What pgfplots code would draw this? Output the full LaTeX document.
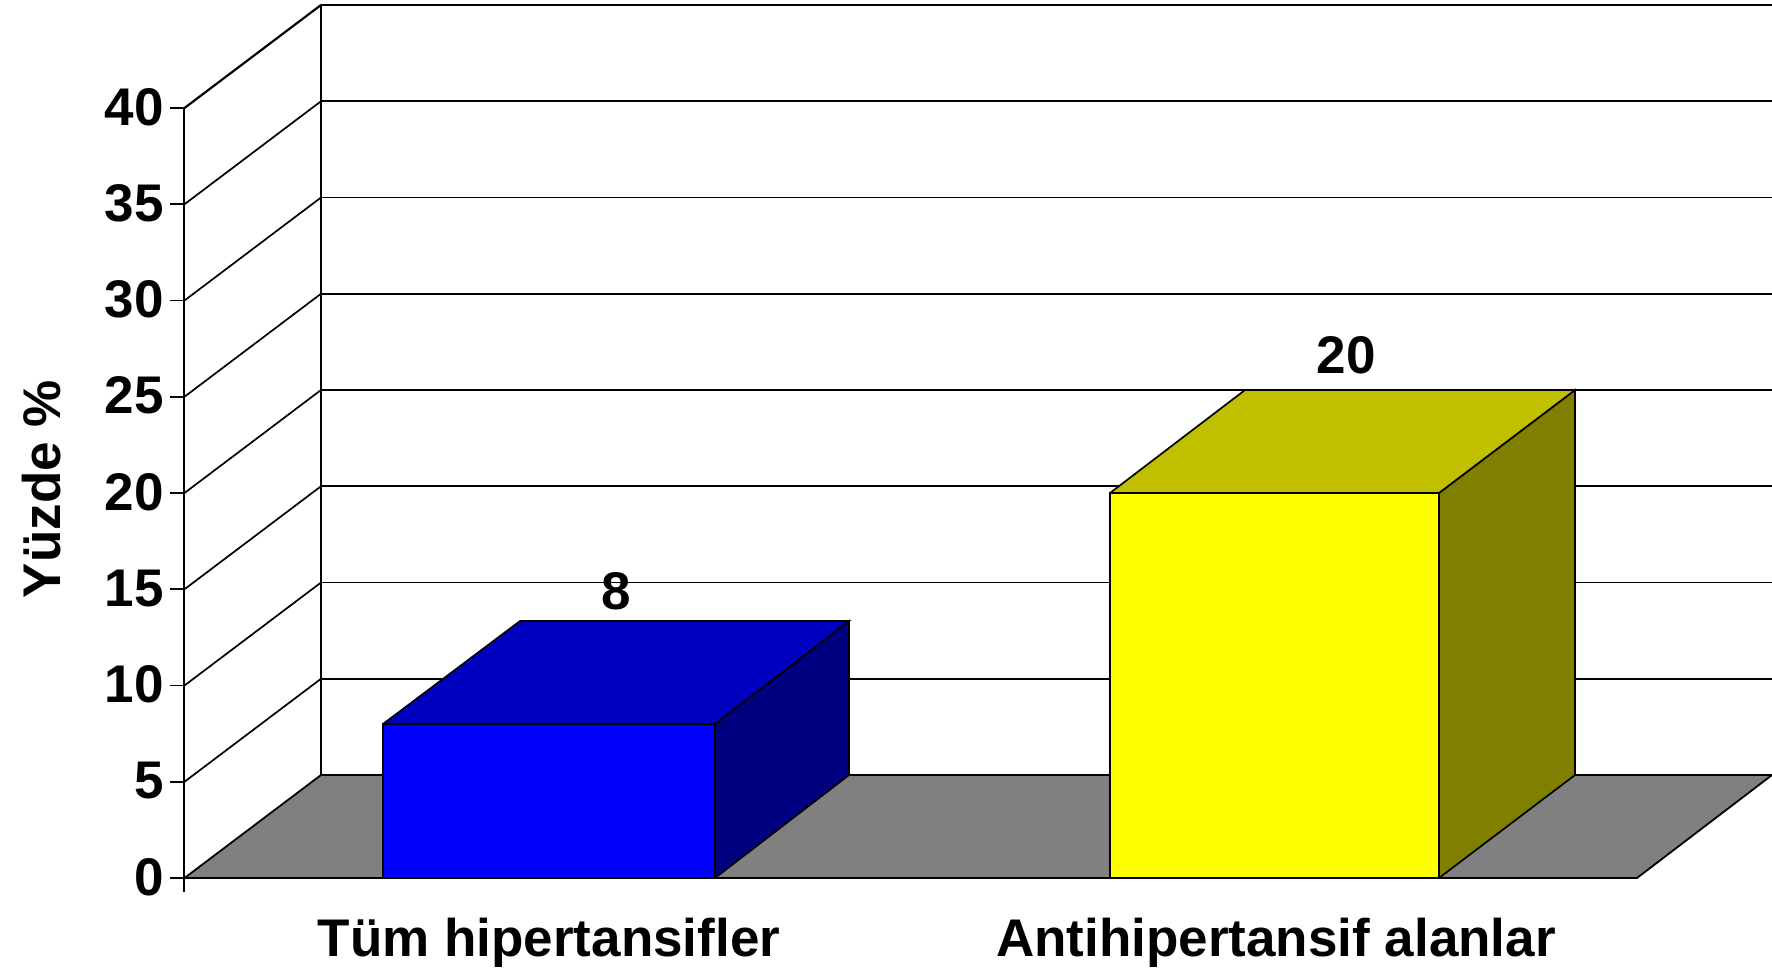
\documentclass[border=0pt]{standalone}
\usepackage{fontspec}
\setmainfont{Liberation Sans}
\usepackage{pgfplots}
\pgfplotsset{compat=1.18}
\definecolor{floorgray}{HTML}{808080}
\definecolor{bluefront}{HTML}{0000FF}
\definecolor{bluetop}{HTML}{0000C0}
\definecolor{blueside}{HTML}{000080}
\definecolor{yelfront}{HTML}{FFFF00}
\definecolor{yeltop}{HTML}{C0C000}
\definecolor{yelside}{HTML}{808000}
\newcommand{\chartfont}{\fontsize{26.5}{30}\selectfont\bfseries}
\begin{document}
\begin{tikzpicture}
\begin{axis}[
  scale only axis, width=793.75pt, height=439pt,
  xmin=184.5, xmax=1772, ymin=0, ymax=45.61,
  clip=false,
  axis line style={draw=none},
  tick align=outside,
  xtick pos=bottom, ytick pos=left,
  ytick={0,5,10,15,20,25,30,35,40},
  xtick={549,1276},
  xticklabels={Tüm hipertansifler,Antihipertansif alanlar},
  major tick length=7pt,
  xtick style={draw=none},
  ytick style={black,line width=0.9pt},
  /pgf/number format/assume math mode=true,
  tick label style={font=\chartfont},
  yticklabel style={inner sep=0pt,xshift=-3.1pt,yshift=0.5pt},
  xticklabel style={inner sep=0pt,yshift=-13pt},
  ylabel={Yüzde \%},
  every axis y label/.style={at={(rel axis cs:-0.0898,0.443)},rotate=90,anchor=center,font=\chartfont},
]
% left wall grid lines
\addplot[black,line width=0.85pt] coordinates {(184.5,5) (321,10.35)};
\addplot[black,line width=0.85pt] coordinates {(184.5,10) (321,15.35)};
\addplot[black,line width=0.85pt] coordinates {(184.5,15) (321,20.35)};
\addplot[black,line width=0.85pt] coordinates {(184.5,20) (321,25.35)};
\addplot[black,line width=0.85pt] coordinates {(184.5,25) (321,30.35)};
\addplot[black,line width=0.85pt] coordinates {(184.5,30) (321,35.35)};
\addplot[black,line width=0.85pt] coordinates {(184.5,35) (321,40.35)};
\addplot[black,line width=1.1pt] coordinates {(184.5,40) (321,45.35)};
% back wall grid lines
\addplot[black,line width=0.85pt] coordinates {(321,10.35) (1772,10.35)};
\addplot[black,line width=0.85pt] coordinates {(321,15.35) (1772,15.35)};
\addplot[black,line width=0.85pt] coordinates {(321,20.35) (1772,20.35)};
\addplot[black,line width=0.85pt] coordinates {(321,25.35) (1772,25.35)};
\addplot[black,line width=0.85pt] coordinates {(321,30.35) (1772,30.35)};
\addplot[black,line width=0.85pt] coordinates {(321,35.35) (1772,35.35)};
\addplot[black,line width=0.85pt] coordinates {(321,40.35) (1772,40.35)};
\addplot[black,line width=1.2pt] coordinates {(321,45.35) (1772,45.35)};
% wall edges
\addplot[black,line width=1pt] coordinates {(184.5,-0.75) (184.5,40)};
\addplot[black,line width=1.3pt] coordinates {(321,5.35) (321,45.35)};
% floor
\addplot[fill=floorgray,draw=black,line width=0.9pt] coordinates {(184.5,0) (1637,0) (1772,5.35) (321,5.35) (184.5,0)};
% bar 1, value 8
\addplot[fill=blueside,draw=black,line width=0.85pt] coordinates {(715,0) (849,5.35) (849,13.35) (715,8) (715,0)};
\addplot[fill=bluetop,draw=black,line width=0.85pt] coordinates {(383,8) (715,8) (849,13.35) (520,13.35) (383,8)};
\addplot[fill=bluefront,draw=black,line width=0.85pt] coordinates {(383,0) (715,0) (715,8) (383,8) (383,0)};
% bar 2, value 20
\addplot[fill=yelside,draw=black,line width=0.85pt] coordinates {(1439,0) (1575,5.35) (1575,25.35) (1439,20) (1439,0)};
\addplot[fill=yeltop,draw=black,line width=0.85pt] coordinates {(1110,20) (1439,20) (1575,25.35) (1245,25.35) (1110,20)};
\addplot[fill=yelfront,draw=black,line width=0.85pt] coordinates {(1110,0) (1439,0) (1439,20) (1110,20) (1110,0)};
% front floor edge
\addplot[black,line width=1.2pt] coordinates {(184.5,0) (1637,0)};
% value labels
\addplot[draw=none] coordinates {(616,14.9)} node[font=\chartfont,inner sep=0pt] {8};
\addplot[draw=none] coordinates {(1346,27.17)} node[font=\chartfont,inner sep=0pt] {20};
\end{axis}
\pgfresetboundingbox
\path[use as bounding box] (-92.25pt,-46pt) rectangle (793.75pt,439pt);
\end{tikzpicture}
\end{document}
